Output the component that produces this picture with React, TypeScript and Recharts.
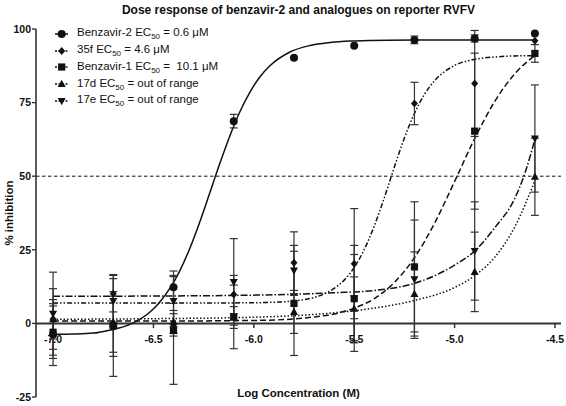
import React from "react";
import {
  ComposedChart,
  Line,
  Scatter,
  XAxis,
  YAxis,
  ReferenceLine,
  ErrorBar,
  Legend,
} from "recharts";

/* ─── Data ─── */

const logConc = [-7.0, -6.7, -6.4, -6.1, -5.8, -5.5, -5.2, -4.9, -4.6];

const benzavir2Values = [-3.8, -1.0, 12.3, 68.7, 90.2, 94.3, 96.3, 96.8, 98.5];
const benzavir2Err = [10.5, 10.2, 5.5, 2.3, 0, 0, 1.3, 1.2, 0];

const f35Values = [1.5, 10.1, -0.5, 9.8, 20.6, 20.3, 74.7, 81.5, 96.0];
const f35Err = [10.3, 6.2, 3.8, 6.5, 10.5, 18.7, 7.2, 18, 0];

const benzavir1Values = [-3.0, -0.7, -2.4, 2.2, 6.8, 8.4, 19.2, 65.3, 91.7];
const benzavir1Err = [8.9, 17.3, 18.3, 10.8, 17.7, 15, 22.1, 26.5, 3];

const d17Values = [1.4, 0.5, 0.5, 2.0, 3.9, 5.0, 10.0, 17.5, 49.8];
const d17Err = [6.7, 10.3, 3.9, 3.7, 7.3, 10.8, 14.3, 13.5, 13.1];

const e17Values = [3.3, 7.6, 7.6, 14.1, 18.0, 8.5, 15.0, 24.6, 62.8];
const e17Err = [14.1, 7.6, 8.7, 14.7, 8.5, 18, 20.1, 16.7, 18.2];

// fitted curves
const benzavir2CurveX = [-7.0, -6.9, -6.8, -6.72, -6.62, -6.52, -6.47, -6.42, -6.37, -6.32, -6.27, -6.22, -6.17, -6.12, -6.07, -6.02, -5.97, -5.92, -5.82, -5.72, -5.62, -5.52, -5.42, -5.2, -4.9, -4.6];
const benzavir2CurveY = [-3.7, -3.6, -3.3, -2.3, -0.4, 3.7, 7.1, 11.7, 17.7, 25.3, 34.3, 44.2, 54.2, 63.6, 71.8, 78.5, 83.7, 87.5, 92.2, 94.4, 95.4, 95.9, 96.1, 96.25, 96.3, 96.3];

const f35CurveX = [-7.0, -6.5, -6.0, -5.9, -5.8, -5.7, -5.65, -5.6, -5.55, -5.5, -5.45, -5.4, -5.35, -5.3, -5.25, -5.2, -5.15, -5.1, -5.0, -4.9, -4.8, -4.7, -4.6];
const f35CurveY = [6.9, 6.9, 7.0, 7.2, 7.6, 8.8, 10.0, 11.9, 14.7, 19.0, 25.1, 33.1, 42.7, 53.1, 63.0, 71.3, 77.8, 82.4, 87.6, 89.7, 90.5, 90.85, 90.95];

const benzavir1CurveX = [-7.0, -6.5, -6.0, -5.8, -5.7, -5.6, -5.5, -5.4, -5.3, -5.2, -5.1, -5.0, -4.9, -4.8, -4.7, -4.6];
const benzavir1CurveY = [0.8, 0.8, 1.0, 1.5, 2.2, 3.2, 5.2, 8.4, 13.9, 22.3, 34.0, 48.2, 62.8, 75.4, 84.8, 91.0];

const d17CurveX = [-7.0, -6.5, -6.0, -5.8, -5.6, -5.4, -5.2, -5.0, -4.9, -4.8, -4.7, -4.6];
const d17CurveY = [1.4, 1.6, 2.1, 2.6, 3.6, 5.2, 7.8, 12.2, 16.2, 22.5, 32.8, 48.5];

const e17CurveX = [-7.0, -6.5, -6.0, -5.8, -5.6, -5.4, -5.2, -5.0, -4.9, -4.8, -4.7, -4.65, -4.6];
const e17CurveY = [9.2, 9.3, 9.6, 9.9, 10.4, 11.2, 13.6, 19.8, 24.6, 32.5, 42.5, 51.0, 62.5];

const xTicks = [-7.0, -6.5, -6.0, -5.5, -5.0, -4.5];
const yTicks = [-25, 0, 25, 50, 75, 100];

/* ─── Helpers ─── */

const INK = "#111";
const AXIS = "#333";
const FONT = '"Liberation Sans", Arial, Helvetica, sans-serif';

const toPoints = (ys: number[], errs: number[]) =>
  logConc.map((x, i) => ({ x, y: ys[i], err: errs[i] }));

const toCurve = (xs: number[], ys: number[]) =>
  xs.map((x, i) => ({ x, y: ys[i] }));

type ShapeProps = { cx?: number; cy?: number };

const CircleMark = ({ cx = 0, cy = 0 }: ShapeProps) => (
  <circle cx={cx} cy={cy} r={4} fill={INK} />
);
const DiamondMark = ({ cx = 0, cy = 0 }: ShapeProps) => (
  <polygon
    points={`${cx},${cy - 4} ${cx + 3.5},${cy} ${cx},${cy + 4} ${cx - 3.5},${cy}`}
    fill={INK}
  />
);
const SquareMark = ({ cx = 0, cy = 0 }: ShapeProps) => (
  <rect x={cx - 3.6} y={cy - 3.6} width={7.2} height={7.2} fill={INK} />
);
const TriUpMark = ({ cx = 0, cy = 0 }: ShapeProps) => (
  <polygon
    points={`${cx},${cy - 4.3} ${cx + 4},${cy + 3} ${cx - 4},${cy + 3}`}
    fill={INK}
  />
);
const TriDownMark = ({ cx = 0, cy = 0 }: ShapeProps) => (
  <polygon
    points={`${cx},${cy + 4.3} ${cx + 4},${cy - 3} ${cx - 4},${cy - 3}`}
    fill={INK}
  />
);

interface SerieConfig {
  key: string;
  label: string;
  ec50: string;
  points: { x: number; y: number; err: number }[];
  curve: { x: number; y: number }[];
  dash?: string;
  Mark: (p: ShapeProps) => React.ReactElement;
}

const series: SerieConfig[] = [
  {
    key: "b2",
    label: "Benzavir-2 EC",
    ec50: " = 0.6 \u03bcM",
    points: toPoints(benzavir2Values, benzavir2Err),
    curve: toCurve(benzavir2CurveX, benzavir2CurveY),
    Mark: CircleMark,
  },
  {
    key: "f35",
    label: "35f EC",
    ec50: " = 4.6 \u03bcM",
    points: toPoints(f35Values, f35Err),
    curve: toCurve(f35CurveX, f35CurveY),
    dash: "5 2 1.5 2 1.5 2",
    Mark: DiamondMark,
  },
  {
    key: "b1",
    label: "Benzavir-1 EC",
    ec50: " = \u00a010.1 \u03bcM",
    points: toPoints(benzavir1Values, benzavir1Err),
    curve: toCurve(benzavir1CurveX, benzavir1CurveY),
    dash: "6 3",
    Mark: SquareMark,
  },
  {
    key: "d17",
    label: "17d EC",
    ec50: " = out of range",
    points: toPoints(d17Values, d17Err),
    curve: toCurve(d17CurveX, d17CurveY),
    dash: "1.5 2",
    Mark: TriUpMark,
  },
  {
    key: "e17",
    label: "17e EC",
    ec50: " = out of range",
    points: toPoints(e17Values, e17Err),
    curve: toCurve(e17CurveX, e17CurveY),
    dash: "7 2 1.5 2",
    Mark: TriDownMark,
  },
];

/* ─── Legend ─── */

function LegendBox() {
  return (
    <div style={{ fontFamily: FONT, fontSize: 11.5, color: INK }}>
      {series.map((s) => (
        <div
          key={s.key}
          style={{ display: "flex", alignItems: "center", height: 16.7, whiteSpace: "nowrap" }}
        >
          <svg width={25} height={12} style={{ flexShrink: 0 }}>
            <line
              x1={3}
              y1={6}
              x2={16}
              y2={6}
              stroke={INK}
              strokeWidth={1.5}
              strokeDasharray={s.dash ? "2 1.5" : undefined}
            />
            <s.Mark cx={9.7} cy={6} />
          </svg>
          <span>
            {s.label}
            <sub style={{ fontSize: 8, verticalAlign: "-3px" }}>50</sub>
            {s.ec50}
          </span>
        </div>
      ))}
    </div>
  );
}

/* ─── Chart ─── */

export default function App() {
  return (
    <div
      style={{
        position: "absolute",
        left: 0,
        top: 0,
        width: 566,
        height: 406,
        background: "#fff",
        fontFamily: FONT,
      }}
    >
      <div
        style={{
          position: "absolute",
          left: 36,
          width: 525,
          top: 3,
          textAlign: "center",
          fontWeight: 700,
          fontSize: 12,
          color: INK,
          lineHeight: "14px",
        }}
      >
        Dose response of benzavir-2 and analogues on reporter RVFV
      </div>

      <ComposedChart
        width={566}
        height={406}
        margin={{ top: 29, right: 5, bottom: 9, left: 6 }}
      >
        <XAxis
          dataKey="x"
          type="number"
          domain={[-7.085, -4.47]}
          allowDataOverflow
          hide
        />
        <YAxis
          type="number"
          domain={[-25, 100]}
          ticks={yTicks}
          width={30}
          tickSize={4}
          tickMargin={1}
          axisLine={{ stroke: AXIS, strokeWidth: 1.6 }}
          tickLine={{ stroke: AXIS, strokeWidth: 1.4 }}
          tick={{ fill: INK, fontSize: 10.5, fontWeight: 700, fontFamily: FONT }}
          label={{
            value: "% inhibition",
            angle: -90,
            position: "insideLeft",
            offset: 3,
            style: { textAnchor: "middle", fill: INK, fontSize: 11.5, fontWeight: 700, fontFamily: FONT },
          }}
        />

        {/* 50 % line */}
        <ReferenceLine y={50} stroke={INK} strokeWidth={1} strokeDasharray="3.5 2.5" />

        {/* x axis drawn at y = 0 */}
        <ReferenceLine y={0} stroke={AXIS} strokeWidth={2} />
        {xTicks.map((t) => (
          <ReferenceLine
            key={t}
            segment={[
              { x: t, y: 0 },
              { x: t, y: -1.6 },
            ]}
            stroke={AXIS}
            strokeWidth={1.5}
            label={{
              value: t.toFixed(1),
              position: "bottom",
              offset: 7,
              style: { fill: INK, fontSize: 10.5, fontWeight: 700, fontFamily: FONT },
            }}
          />
        ))}

        {series.map((s) => (
          <Line
            key={`curve-${s.key}`}
            data={s.curve}
            dataKey="y"
            type="monotone"
            stroke={INK}
            strokeWidth={1.5}
            strokeDasharray={s.dash}
            dot={false}
            activeDot={false}
            isAnimationActive={false}
            legendType="none"
          />
        ))}

        {series.map((s) => (
          <Scatter
            key={`pts-${s.key}`}
            data={s.points}
            dataKey="y"
            shape={(p: ShapeProps) => <s.Mark cx={p.cx} cy={p.cy} />}
            isAnimationActive={false}
            legendType="none"
          >
            <ErrorBar
              dataKey="err"
              direction="y"
              width={4}
              stroke={AXIS}
              strokeWidth={1.2}
              isAnimationActive={false}
            />
          </Scatter>
        ))}

        <Legend
          layout="vertical"
          align="center"
          verticalAlign="middle"
          wrapperStyle={{ top: 25.6, left: 52, width: 220, height: "auto" }}
          content={() => <LegendBox />}
        />
      </ComposedChart>

      <div
        style={{
          position: "absolute",
          left: 36,
          width: 525,
          top: 386,
          textAlign: "center",
          fontWeight: 700,
          fontSize: 11.5,
          color: INK,
          lineHeight: "14px",
        }}
      >
        Log Concentration (M)
      </div>
    </div>
  );
}
